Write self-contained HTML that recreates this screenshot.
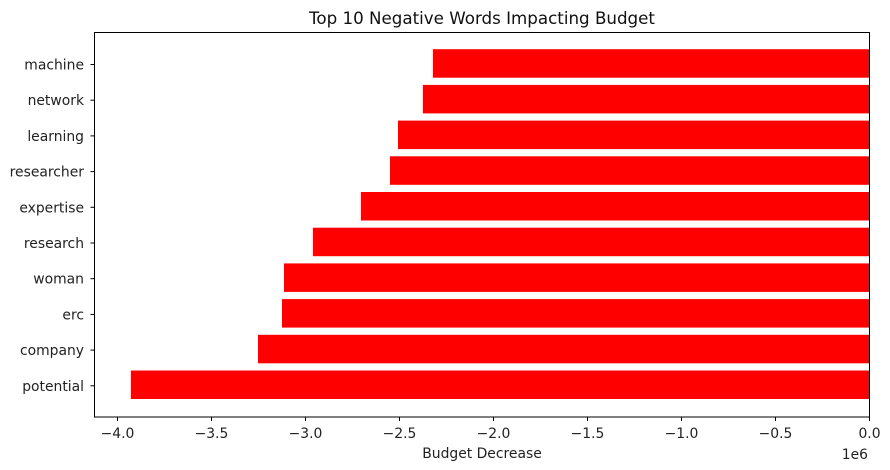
<!DOCTYPE html>
<html><head><meta charset="utf-8"><style>html,body{margin:0;padding:0;background:#fff}svg{display:block}</style></head>
<body>
<svg width="890" height="470" xmlns="http://www.w3.org/2000/svg" font-family="DejaVu Sans, Liberation Sans, sans-serif" font-size="13.9" fill="#000">
<rect width="890" height="470" fill="#fff"/>
<g fill="#ff0000">
<rect x="433" y="49.2" width="436" height="28.5"/>
<rect x="423" y="84.9" width="446" height="28.5"/>
<rect x="398" y="120.6" width="471" height="28.5"/>
<rect x="390" y="156.3" width="479" height="28.5"/>
<rect x="361" y="192" width="508" height="28.5"/>
<rect x="313" y="227.7" width="556" height="28.5"/>
<rect x="284" y="263.4" width="585" height="28.5"/>
<rect x="282" y="299.1" width="587" height="28.5"/>
<rect x="258" y="334.8" width="611" height="28.5"/>
<rect x="131" y="370.5" width="738" height="28.5"/>
</g>
<rect x="94.5" y="32.5" width="775" height="384.5" fill="none" stroke="#000" stroke-width="1"/>
<g stroke="#000" stroke-width="1">
<line x1="90.5" x2="94.5" y1="64.5" y2="64.5"/><line x1="90.5" x2="94.5" y1="100.2" y2="100.2"/>
<line x1="90.5" x2="94.5" y1="135.9" y2="135.9"/><line x1="90.5" x2="94.5" y1="171.6" y2="171.6"/>
<line x1="90.5" x2="94.5" y1="207.3" y2="207.3"/><line x1="90.5" x2="94.5" y1="243" y2="243"/>
<line x1="90.5" x2="94.5" y1="278.7" y2="278.7"/><line x1="90.5" x2="94.5" y1="314.4" y2="314.4"/>
<line x1="90.5" x2="94.5" y1="350.1" y2="350.1"/><line x1="90.5" x2="94.5" y1="385.8" y2="385.8"/>
<line y1="417" y2="421" x1="117.5" x2="117.5"/><line y1="417" y2="421" x1="211.5" x2="211.5"/>
<line y1="417" y2="421" x1="305.5" x2="305.5"/><line y1="417" y2="421" x1="399.5" x2="399.5"/>
<line y1="417" y2="421" x1="493.5" x2="493.5"/><line y1="417" y2="421" x1="587.5" x2="587.5"/>
<line y1="417" y2="421" x1="681.5" x2="681.5"/><line y1="417" y2="421" x1="775.5" x2="775.5"/>
<line y1="417" y2="421" x1="869.5" x2="869.5"/>
</g>
<g text-anchor="end" fill="#222">
<text x="84" y="69.5">machine</text><text x="84" y="105.2">network</text>
<text x="84" y="140.9">learning</text><text x="84" y="176.6">researcher</text>
<text x="84" y="212.3">expertise</text><text x="84" y="248">research</text>
<text x="84" y="283.7">woman</text><text x="84" y="319.4">erc</text>
<text x="84" y="355.1">company</text><text x="84" y="390.8">potential</text>
</g>
<g text-anchor="middle" fill="#222">
<text x="117.5" y="438">−4.0</text><text x="211.5" y="438">−3.5</text>
<text x="305.5" y="438">−3.0</text><text x="399.5" y="438">−2.5</text>
<text x="493.5" y="438">−2.0</text><text x="587.5" y="438">−1.5</text>
<text x="681.5" y="438">−1.0</text><text x="775.5" y="438">−0.5</text>
<text x="869.5" y="438">0.0</text>
</g>
<text x="868" y="459" text-anchor="end" fill="#222">1e6</text>
<text x="482" y="458" text-anchor="middle" fill="#222">Budget Decrease</text>
<text x="482" y="24" text-anchor="middle" font-size="16.7" fill="#111">Top 10 Negative Words Impacting Budget</text>
</svg>
</body></html>
